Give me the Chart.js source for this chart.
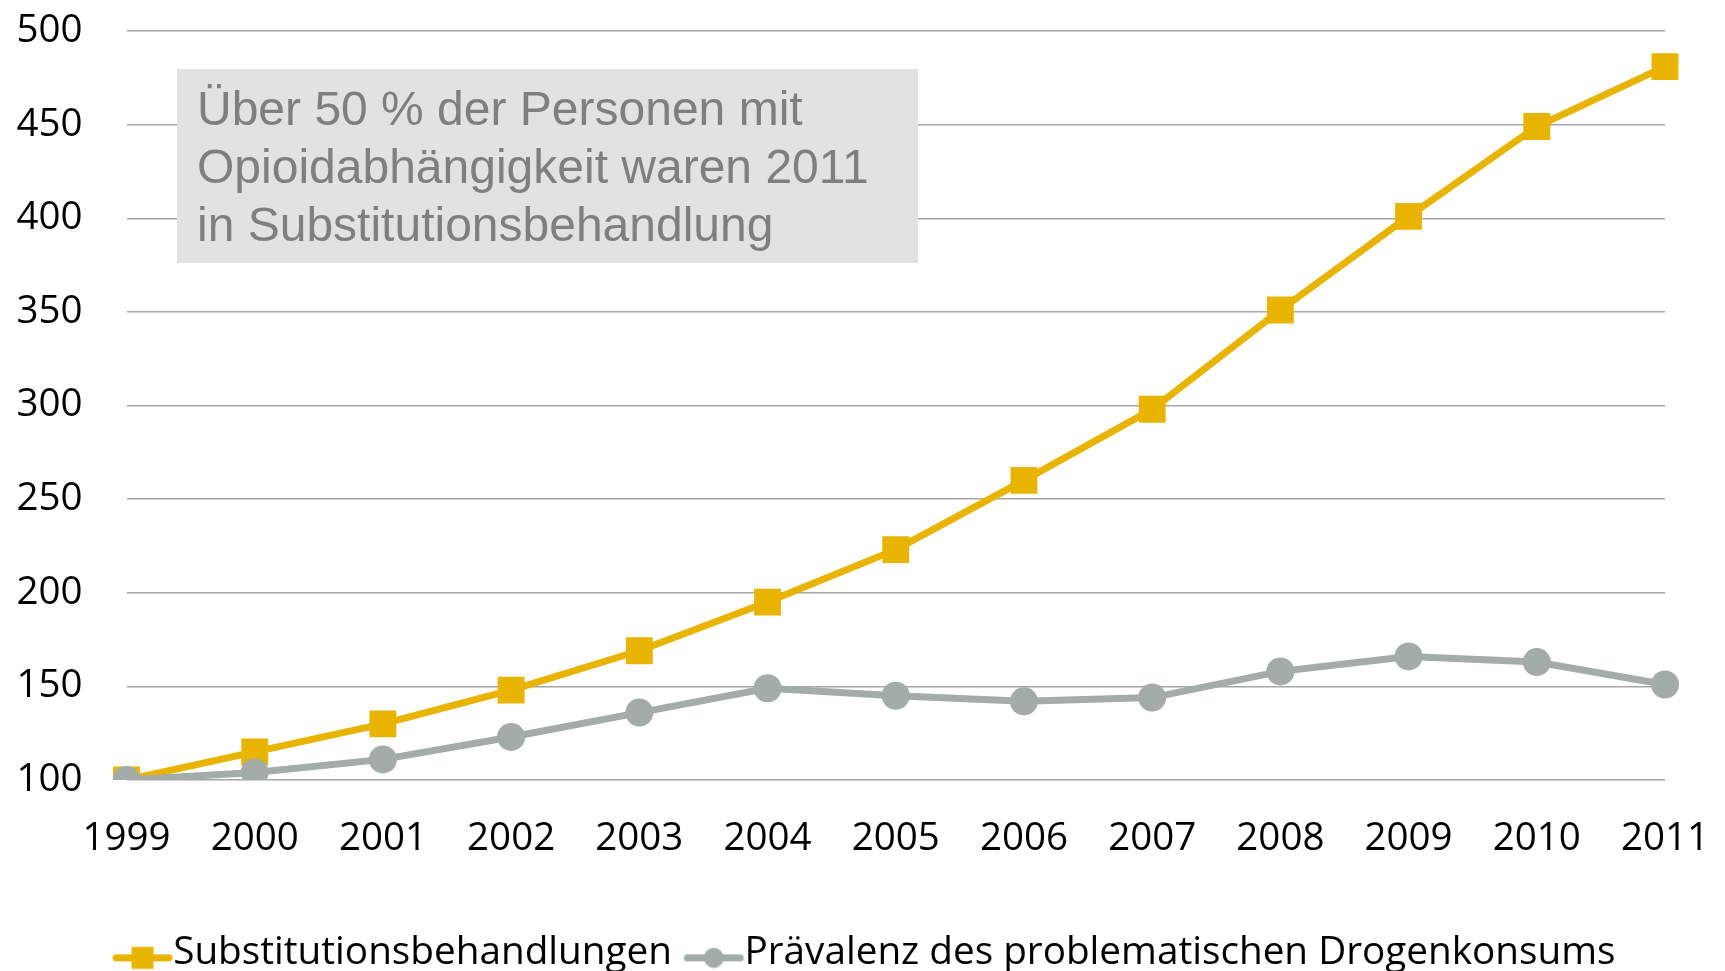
<!DOCTYPE html>
<html lang="de">
<head>
<meta charset="utf-8">
<title>Substitutionsbehandlungen</title>
<script src="https://cdn.jsdelivr.net/npm/chart.js@4/dist/chart.umd.min.js"></script>
<style>
  html, body { margin: 0; padding: 0; background: #ffffff; }
  #wrap { width: 1725px; height: 971px; }
</style>
</head>
<body>
<div id="wrap"><canvas id="c" width="1725" height="971"></canvas></div>
<script>
// ---- data ----
const years = ['1999','2000','2001','2002','2003','2004','2005','2006','2007','2008','2009','2010','2011'];
const substitution = [100, 115, 130, 148, 169, 195, 223, 260, 298, 351, 401, 449, 481];
const praevalenz   = [100, 104, 111, 123, 136, 149, 145, 142, 144, 158, 166, 163, 151];
const seriesNames = ['Substitutionsbehandlungen', 'Prävalenz des problematischen Drogenkonsums'];
const yTicks = [100, 150, 200, 250, 300, 350, 400, 450, 500];
const noteLines = ['Über 50 % der Personen mit', 'Opioidabhängigkeit waren 2011', 'in Substitutionsbehandlung'];

const YELLOW = '#E8B400';
const GREY = '#A3ACA7';

// legend icon: line with marker, content shifted left of the canvas centre
function legendIcon(color, shape) {
  const c = document.createElement('canvas');
  c.width = 88; c.height = 40;
  const g = c.getContext('2d');
  const cx = 34.5, cy = 24.5;
  g.strokeStyle = color; g.lineWidth = 7; g.lineCap = 'round';
  g.beginPath(); g.moveTo(cx - 26.5, cy); g.lineTo(cx + 26.5, cy); g.stroke();
  g.fillStyle = color;
  if (shape === 'rect') {
    g.fillRect(cx - 11, cy - 11, 22, 22);
  } else {
    g.beginPath(); g.arc(cx, cy, 10, 0, Math.PI * 2); g.fill();
  }
  return c;
}
const legendIcons = [legendIcon(YELLOW, 'rect'), legendIcon(GREY, 'circle')];

const notePlugin = {
  id: 'note',
  beforeDatasetsDraw(chart) {
    const ctx = chart.ctx;
    ctx.save();
    ctx.fillStyle = '#E1E2E2';
    ctx.fillRect(177, 69, 741, 194);
    ctx.fillStyle = '#7F7F7F';
    ctx.font = '48px "Liberation Sans", Arial, sans-serif';
    ctx.textBaseline = 'alphabetic';
    ctx.textAlign = 'left';
    const base = [125, 183, 241];
    noteLines.forEach((t, i) => ctx.fillText(t, 197, base[i]));
    ctx.restore();
  }
};

new Chart(document.getElementById('c'), {
  type: 'line',
  data: {
    labels: years,
    datasets: [
      {
        label: seriesNames[0],
        data: substitution,
        borderColor: YELLOW,
        backgroundColor: YELLOW,
        borderWidth: 7,
        pointStyle: 'rect',
        pointRadius: 19,
        pointHoverRadius: 19,
        pointBorderWidth: 0,
        pointBackgroundColor: YELLOW,
        tension: 0,
        order: 1
      },
      {
        label: seriesNames[1],
        data: praevalenz,
        borderColor: GREY,
        backgroundColor: GREY,
        borderWidth: 7,
        pointStyle: 'circle',
        pointRadius: 14,
        pointHoverRadius: 14,
        pointBorderWidth: 0,
        pointBackgroundColor: GREY,
        tension: 0,
        order: 0
      }
    ]
  },
  options: {
    responsive: false,
    animation: false,
    devicePixelRatio: 1,
    layout: { padding: { top: 31, right: 60, left: 0, bottom: -11.7 } },
    plugins: {
      tooltip: { enabled: false },
      legend: {
        position: 'bottom',
        align: 'end',
        labels: {
          usePointStyle: true,
          pointStyleWidth: 3.65,
          padding: 49.5,
          color: '#000000',
          font: { family: '"Open Sans", sans-serif', size: 38.7 },
          generateLabels(chart) {
            return chart.data.datasets.map((ds, i) => ({
              text: ds.label,
              pointStyle: legendIcons[i],
              fillStyle: ds.borderColor,
              strokeStyle: ds.borderColor,
              lineWidth: 0,
              hidden: false,
              datasetIndex: i,
              fontColor: '#000000'
            }));
          }
        }
      }
    },
    scales: {
      x: {
        offset: false,
        grid: { display: false, drawTicks: false },
        border: { display: false },
        ticks: {
          color: '#000000',
          padding: 36,
          maxRotation: 0,
          autoSkip: false,
          font: { family: '"Open Sans", sans-serif', size: 38.5 }
        },
        afterFit(s) { s.height = 104.5; s.paddingLeft = 0; s.paddingRight = 0; }
      },
      y: {
        min: 100,
        max: 500,
        afterBuildTicks(s) { s.ticks = yTicks.map(v => ({ value: v })); },
        grid: { color: '#A6A6A6', lineWidth: 1.4, drawTicks: false },
        border: { display: false },
        ticks: {
          color: '#000000',
          padding: 44,
          font: { family: '"Open Sans", sans-serif', size: 38.5 }
        },
        afterFit(s) { s.width = 126.5; s.paddingTop = 0; s.paddingBottom = 0; }
      }
    }
  },
  plugins: [notePlugin]
});
</script>
</body>
</html>
